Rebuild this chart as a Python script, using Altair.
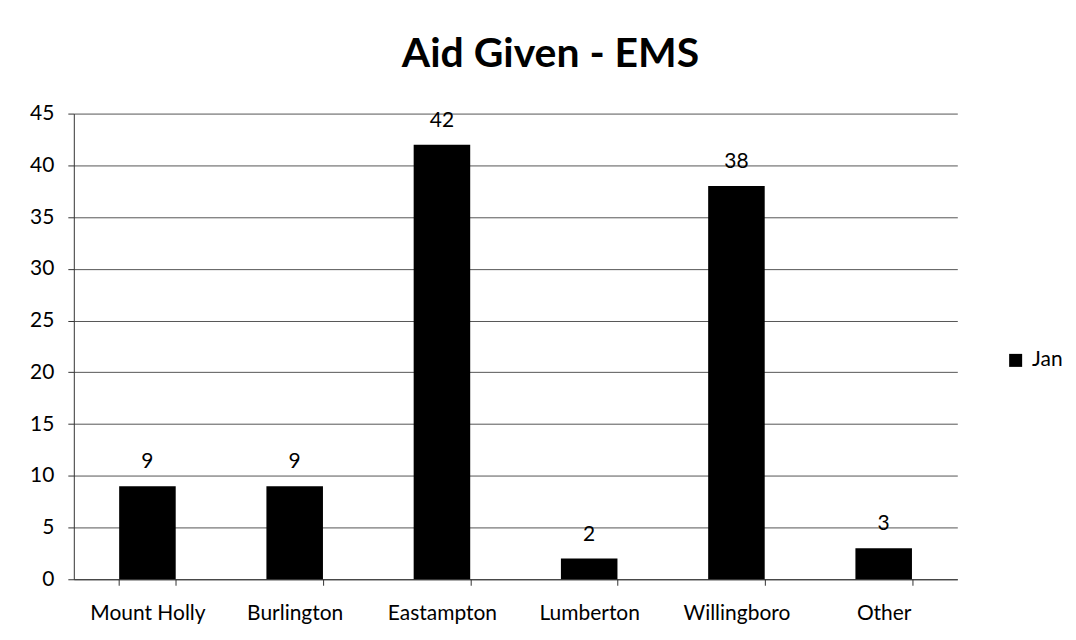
import altair as alt
import pandas as pd

categories = ["Mount Holly", "Burlington", "Eastampton", "Lumberton", "Willingboro", "Other"]
values = [9, 9, 42, 2, 38, 3]
series = ["Jan"] * len(categories)

df = pd.DataFrame({"town": categories, "count": values, "series": series})

FONT = "Lato"
FS = 21

base = alt.Chart(df).encode(
    x=alt.X("town:N", sort=categories, title=None,
            scale=alt.Scale(paddingInner=0.616, paddingOuter=0.308),
            axis=alt.Axis(labelAngle=0, labelFontSize=FS, labelFont=FONT, labelColor="black",
                          domainColor="#333", tickColor="#333", tickSize=6, labelPadding=17,
                          tickBand="extent")),
    y=alt.Y("count:Q", title=None,
            scale=alt.Scale(domain=[0, 45], nice=False),
            axis=alt.Axis(values=list(range(0, 46, 5)), labelFontSize=FS, labelFont=FONT,
                          labelColor="black", domainColor="#333", tickColor="#333", tickSize=6,
                          gridColor="#555", gridWidth=1, labelPadding=14)),
)

bars = base.mark_bar(color="black").encode(
    color=alt.Color("series:N", scale=alt.Scale(range=["black"]),
                    legend=alt.Legend(title=None, orient="none", legendX=934, legendY=237,
                                      symbolType="square", symbolSize=170, labelFontSize=FS,
                                      labelFont=FONT, labelColor="black", labelOffset=6))
)

labels = base.mark_text(dy=-24, fontSize=FS, font=FONT, color="black").encode(
    text="count:Q"
)

chart = (bars + labels).properties(
    width=886, height=467,
    padding={"left": 21, "top": 25, "right": 5, "bottom": 5},
    title=alt.TitleParams("Aid Given - EMS", fontSize=41, font=FONT, fontWeight="bold",
                          color="black", anchor="middle", offset=27, dx=35),
).configure_view(stroke=None)

chart.save("out.html", embed_options={"renderer": "svg", "actions": False})
